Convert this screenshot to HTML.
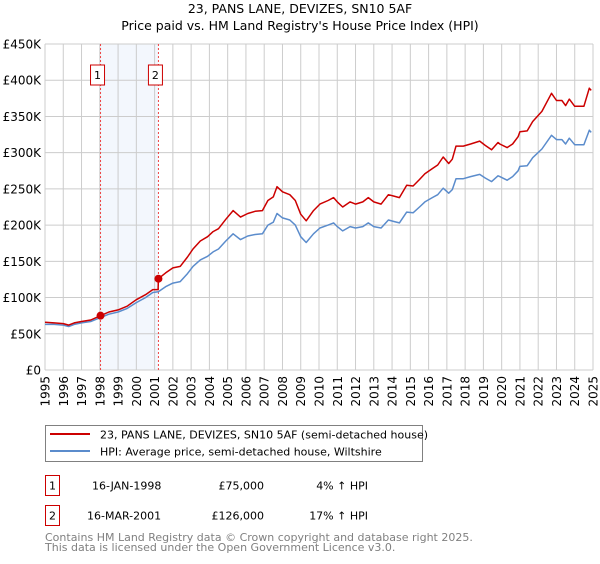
<!DOCTYPE html>
<html><head><meta charset="utf-8"><style>
body{margin:0;background:#fff;width:600px;height:560px;overflow:hidden;font-family:"DejaVu Sans","Liberation Sans",sans-serif}
svg text{font-family:"DejaVu Sans","Liberation Sans",sans-serif}
</style></head><body>
<svg id="chart" width="600" height="560" xmlns="http://www.w3.org/2000/svg">
<text x="300" y="13" text-anchor="middle" font-size="12.5" fill="#000">23, PANS LANE, DEVIZES, SN10 5AF</text>
<text x="300" y="30" text-anchor="middle" font-size="12.5" fill="#000">Price paid vs. HM Land Registry's House Price Index (HPI)</text>
<g id="grid"></g>
<g id="marks"></g>
<g id="axes"></g>
<g>
<rect x="45.5" y="425.5" width="377" height="36" fill="#fff" stroke="#808080"/>
<line x1="50" y1="434" x2="90" y2="434" stroke="#cc0000" stroke-width="2"/>
<text x="100" y="438.5" font-size="11">23, PANS LANE, DEVIZES, SN10 5AF (semi-detached house)</text>
<line x1="50" y1="451" x2="90" y2="451" stroke="#5b8ccc" stroke-width="2"/>
<text x="100" y="455.5" font-size="11">HPI: Average price, semi-detached house, Wiltshire</text>
</g>
<g font-size="11">
<rect x="45.5" y="475.5" width="14" height="20" fill="#fff" stroke="#cc0000"/>
<text x="52.5" y="489.5" text-anchor="middle">1</text>
<text x="92" y="489.5">16-JAN-1998</text>
<text x="264" y="489.5" text-anchor="end">£75,000</text>
<text x="368" y="489.5" text-anchor="end">4% ↑ HPI</text>
<rect x="45.5" y="505.5" width="14" height="20" fill="#fff" stroke="#cc0000"/>
<text x="52.5" y="519.5" text-anchor="middle">2</text>
<text x="87" y="519.5">16-MAR-2001</text>
<text x="264" y="519.5" text-anchor="end">£126,000</text>
<text x="368" y="519.5" text-anchor="end">17% ↑ HPI</text>
</g>
<text x="45" y="541" font-size="11" fill="#808080">Contains HM Land Registry data © Crown copyright and database right 2025.</text>
<text x="45" y="551" font-size="11" fill="#808080">This data is licensed under the Open Government Licence v3.0.</text>
</svg>
<script>
const hpiYears=[1995.0,1995.5,1996.0,1996.3,1996.6,1997.0,1997.5,1998.0,1998.5,1999.0,1999.5,2000.0,2000.5,2000.9,2001.2,2001.6,2002.0,2002.4,2002.8,2003.1,2003.5,2003.9,2004.2,2004.5,2004.9,2005.3,2005.7,2006.1,2006.5,2006.9,2007.2,2007.5,2007.7,2008.0,2008.4,2008.7,2009.0,2009.3,2009.7,2010.05,2010.5,2010.8,2011.0,2011.3,2011.7,2012.0,2012.4,2012.7,2013.0,2013.4,2013.8,2014.1,2014.4,2014.8,2015.15,2015.5,2015.8,2016.2,2016.5,2016.8,2017.1,2017.3,2017.5,2017.9,2018.3,2018.8,2019.1,2019.45,2019.8,2019.9,2020.3,2020.6,2020.9,2021.0,2021.4,2021.7,2022.2,2022.73,2023.0,2023.3,2023.5,2023.7,2024.0,2024.5,2024.8,2024.9];
const hpiValues=[63,63,62,60,63,65,67,72,77,80,85,93,100,107,108,115,120,122,133,143,152,157,163,167,178,188,180,185,187,188,200,204,216,210,207,200,184,176,188,196,200,203,198,192,198,196,198,203,198,196,207,205,203,218,217,225,232,238,242,251,244,249,264,264,267,270,265,260,268,267,262,267,275,281,282,293,305,324,318,318,312,320,311,311,331,328];
const priceYears=[1995.0,1995.5,1996.0,1996.3,1996.6,1997.0,1997.5,1998.04,1998.5,1999.0,1999.5,2000.0,2000.5,2000.9,2001.19,2001.21,2001.6,2002.0,2002.4,2002.8,2003.1,2003.5,2003.9,2004.2,2004.5,2004.9,2005.3,2005.7,2006.1,2006.5,2006.9,2007.2,2007.5,2007.7,2008.0,2008.4,2008.7,2009.0,2009.3,2009.7,2010.05,2010.5,2010.8,2011.0,2011.3,2011.7,2012.0,2012.4,2012.7,2013.0,2013.4,2013.8,2014.1,2014.4,2014.8,2015.15,2015.5,2015.8,2016.2,2016.5,2016.8,2017.1,2017.3,2017.5,2017.9,2018.3,2018.8,2019.1,2019.45,2019.8,2019.9,2020.3,2020.6,2020.9,2021.0,2021.4,2021.7,2022.2,2022.73,2023.0,2023.3,2023.5,2023.7,2024.0,2024.5,2024.8,2024.9];
const priceValues=[66,65,64,62,65,67,69,75,80,83,88,97,104,111,111,126,134,141,143,156,167,178,184,191,195,208,220,211,216,219,220,234,239,253,246,242,234,215,206,220,229,234,238,232,225,232,229,232,238,232,229,242,240,238,255,254,263,271,278,283,294,285,291,309,309,312,316,310,304,314,312,307,312,322,329,330,343,357,382,372,372,365,374,364,364,389,386];
const saleYears=[1998.04,2001.21];
const saleValues=[75,126];
const saleLabels=["1","2"];
const yTicks=[0,50,100,150,200,250,300,350,400,450];
const yTickLabels=["£0","£50K","£100K","£150K","£200K","£250K","£300K","£350K","£400K","£450K"];
const xTicks=[1995,1996,1997,1998,1999,2000,2001,2002,2003,2004,2005,2006,2007,2008,2009,2010,2011,2012,2013,2014,2015,2016,2017,2018,2019,2020,2021,2022,2023,2024,2025];

const X0=45,X1=593,Y0=370,Y1=44;
const xs=y=>X0+(y-1995)/30*(X1-X0);
const ys=v=>Y0-v/450*(Y0-Y1);
const NS="http://www.w3.org/2000/svg";
function mk(parent,tag,attrs){const e=document.createElementNS(NS,tag);for(const k in attrs)e.setAttribute(k,attrs[k]);parent.appendChild(e);return e;}
const grid=document.getElementById('grid'),marks=document.getElementById('marks'),axes=document.getElementById('axes');

const band=mk(grid,'rect',{x:xs(saleYears[0]),y:Y1,width:xs(saleYears[1])-xs(saleYears[0]),height:Y0-Y1,fill:'#eef3fc',opacity:0.7});



yTicks.forEach((t,i)=>{
 const l=mk(grid,'line',{x1:X0,x2:X1,y1:ys(t),y2:ys(t),stroke:'#cccccc','stroke-width':1});
 
 
 const tx=mk(axes,'text',{x:X0-4,y:ys(t)+4.5,'text-anchor':'end','font-size':12});
 
 
 tx.textContent=yTickLabels[i];
});
xTicks.forEach(t=>{
 const l=mk(grid,'line',{x1:xs(t),x2:xs(t),y1:Y1,y2:Y0,stroke:'#cccccc','stroke-width':1});
 
 
 const tx=mk(axes,'text',{x:0,y:0,'text-anchor':'end','font-size':12,transform:`translate(${xs(t)+4.5},${Y0+6}) rotate(-90)`});
 
 
 tx.textContent=t;
});

saleYears.forEach((y,i)=>{
 const l=mk(marks,'line',{x1:xs(y),x2:xs(y),y1:Y1,y2:Y0,stroke:'#ee4444','stroke-width':1,'stroke-dasharray':'2,2'});
 
 
 const r=mk(marks,'rect',{x:xs(y)-7-3,y:65,width:14,height:20,fill:'#fff',stroke:'#cc0000'});
 
 
 const t=mk(marks,'text',{x:xs(y)-3,y:79,'text-anchor':'middle','font-size':11});
 
 
 t.textContent=saleLabels[i];
});

function path(yrs,vals){return yrs.map((y,i)=>(i?'L':'M')+xs(y).toFixed(1)+','+ys(vals[i]).toFixed(1)).join('');}
const hp=mk(marks,'path',{d:path(hpiYears,hpiValues),fill:'none',stroke:'#5b8ccc','stroke-width':1.5,'stroke-linejoin':'round'});


const pp=mk(marks,'path',{d:path(priceYears,priceValues),fill:'none',stroke:'#cc0000','stroke-width':1.5,'stroke-linejoin':'round'});


saleYears.forEach((y,i)=>{
 const c=mk(marks,'circle',{cx:xs(y),cy:ys(saleValues[i]),r:4,fill:'#cc0000'});
 
 
});
</script>
</body></html>
